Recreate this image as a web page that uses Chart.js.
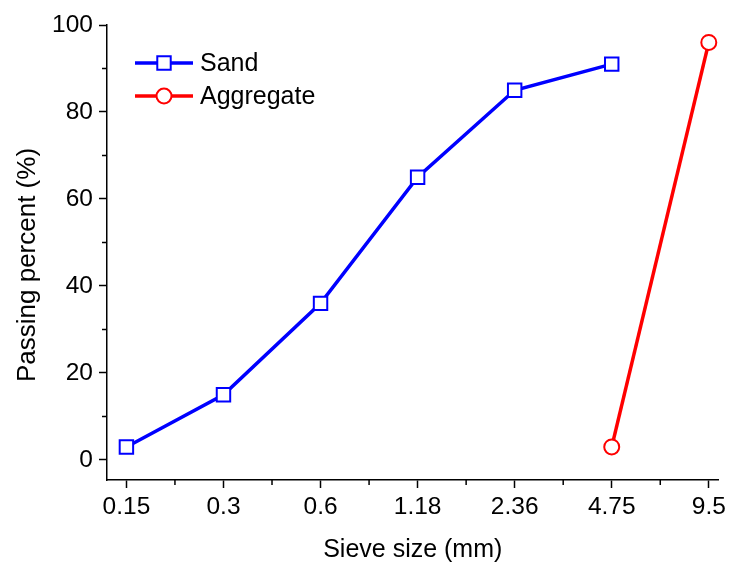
<!DOCTYPE html>
<html>
<head>
<meta charset="utf-8">
<script src="https://cdn.jsdelivr.net/npm/chart.js@4.4.1/dist/chart.umd.min.js"></script>
<style>
  body { margin: 0; background: #fff; }
  #wrap { width: 730px; height: 565px; }
</style>
</head>
<body>
<div id="wrap"><canvas id="sieve-chart" width="730" height="565"></canvas></div>
<script>
// sieve sizes (mm) shown as equally spaced categories
const categories = ['0.15', '0.3', '0.6', '1.18', '2.36', '4.75', '9.5'];
const sandValues = [3, 15, 36, 65, 85, 91, null];
const aggregateValues = [null, null, null, null, null, 3, 96];
const yTicks = [0, 20, 40, 60, 80, 100];
const yMinorTicks = [10, 30, 50, 70, 90];
const yTitle = 'Passing percent (%)';

function toPoints(values) {
    return values
        .map(function (v, i) { return { x: i, y: v }; })
        .filter(function (p) { return p.y !== null; });
}

const FONT = "'Liberation Sans', Arial, sans-serif";
Chart.defaults.color = '#000';
Chart.defaults.font.family = FONT;

// minor ticks, y title and legend drawn by hand
const extrasPlugin = {
    id: 'extras',
    afterDraw: function (chart) {
        const ctx = chart.ctx;
        const xs = chart.scales.x;
        const ys = chart.scales.y;
        ctx.save();
        ctx.strokeStyle = '#000';
        ctx.lineWidth = 1.5;
        ctx.beginPath();
        for (let i = 0; i < categories.length - 1; i++) {
            const px = xs.getPixelForValue(i + 0.5);
            ctx.moveTo(px, ys.bottom);
            ctx.lineTo(px, ys.bottom + 5);
        }
        yMinorTicks.forEach(function (v) {
            const py = ys.getPixelForValue(v);
            ctx.moveTo(xs.left, py);
            ctx.lineTo(xs.left - 5, py);
        });
        ctx.stroke();

        // y axis title
        ctx.save();
        ctx.translate(28, 265);
        ctx.rotate(-Math.PI / 2);
        ctx.fillStyle = '#000';
        ctx.font = '26px ' + FONT;
        ctx.textAlign = 'center';
        ctx.textBaseline = 'middle';
        ctx.fillText(yTitle, 0, 0);
        ctx.restore();

        // legend
        chart.data.datasets.forEach(function (ds, i) {
            const y = 63 + i * 33;
            ctx.strokeStyle = ds.borderColor;
            ctx.lineWidth = ds.borderWidth;
            ctx.beginPath();
            ctx.moveTo(135, y);
            ctx.lineTo(193, y);
            ctx.stroke();
            ctx.fillStyle = ds.pointBackgroundColor;
            ctx.lineWidth = ds.pointBorderWidth;
            ctx.beginPath();
            if (ds.pointStyle === 'rect') {
                const s = ds.pointRadius * Math.SQRT1_2;
                ctx.rect(164 - s, y - s, 2 * s, 2 * s);
            } else {
                ctx.arc(164, y, ds.pointRadius, 0, Math.PI * 2);
            }
            ctx.fill();
            ctx.stroke();
            ctx.fillStyle = '#000';
            ctx.font = '25px ' + FONT;
            ctx.textBaseline = 'middle';
            ctx.textAlign = 'left';
            ctx.fillText(ds.label, 200, y + 1);
        });
        ctx.restore();
    }
};

new Chart(document.getElementById('sieve-chart'), {
    type: 'line',
    data: {
        datasets: [{
            label: 'Sand',
            data: toPoints(sandValues),
            borderColor: '#0000ff',
            borderWidth: 3.5,
            pointStyle: 'rect',
            pointRadius: 9.5,
            pointBorderWidth: 2,
            pointBackgroundColor: '#fff',
            pointBorderColor: '#0000ff',
            tension: 0
        }, {
            label: 'Aggregate',
            data: toPoints(aggregateValues),
            borderColor: '#ff0000',
            borderWidth: 3.5,
            pointStyle: 'circle',
            pointRadius: 7.5,
            pointBorderWidth: 2,
            pointBackgroundColor: '#fff',
            pointBorderColor: '#ff0000',
            tension: 0
        }]
    },
    options: {
        responsive: false,
        animation: false,
        layout: { padding: { top: 25, right: 9, left: 0, bottom: 0 } },
        plugins: { legend: { display: false }, tooltip: { enabled: false } },
        scales: {
            x: {
                type: 'linear',
                min: -0.2,
                max: 6.1,
                afterBuildTicks: function (scale) {
                    scale.ticks = categories.map(function (c, i) { return { value: i }; });
                },
                afterFit: function (scale) {
                    scale.height = 85;
                    scale.paddingLeft = 0;
                    scale.paddingRight = 0;
                },
                grid: { drawOnChartArea: false, tickLength: 8, tickWidth: 1.5, tickColor: '#000' },
                border: { color: '#000', width: 1.5 },
                ticks: {
                    padding: 5,
                    maxRotation: 0,
                    font: { size: 24.5 },
                    callback: function (v) { return categories[v]; }
                },
                title: {
                    display: true,
                    text: 'Sieve size (mm)',
                    font: { size: 25 },
                    padding: { top: 0, bottom: 0 }
                }
            },
            y: {
                type: 'linear',
                min: -4.6,
                max: 100,
                afterBuildTicks: function (scale) {
                    scale.ticks = yTicks.map(function (v) { return { value: v }; });
                },
                afterFit: function (scale) {
                    scale.width = 107;
                    scale.paddingTop = 0;
                    scale.paddingBottom = 0;
                },
                grid: { drawOnChartArea: false, tickLength: 8, tickWidth: 1.5, tickColor: '#000' },
                border: { color: '#000', width: 1.5 },
                ticks: { padding: 6, font: { size: 24.5 } }
            }
        }
    },
    plugins: [extrasPlugin]
});
</script>
</body>
</html>
